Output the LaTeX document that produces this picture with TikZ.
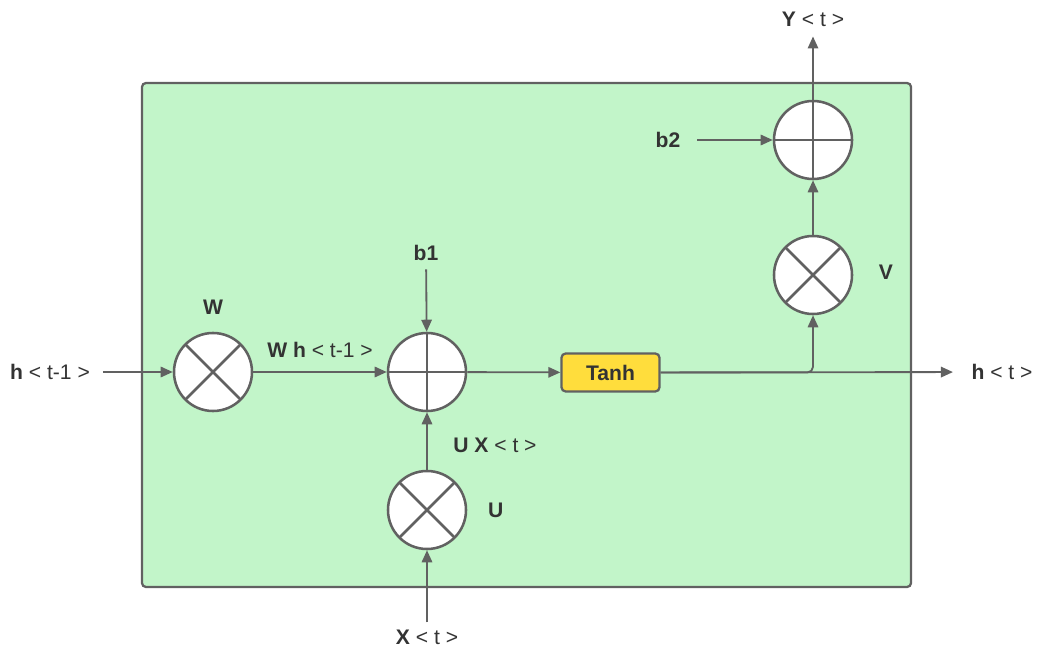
\documentclass[tikz,border=0pt]{standalone}
\usepackage{fontspec}
\setmainfont{Liberation Sans}
\usepackage{tikz}
\usetikzlibrary{arrows.meta, positioning}
\definecolor{cellgreen}{HTML}{C2F5C9}
\definecolor{tanhyellow}{HTML}{FFDD3C}
\definecolor{linegray}{HTML}{616161}
\definecolor{textgray}{HTML}{333333}

\begin{document}
\begin{tikzpicture}[
      x=0.025cm, y=-0.025cm,
      font=\fontsize{15}{17}\selectfont, text=textgray,
      % Styles
      cell/.style={
        rectangle, draw=linegray, line width=1.6pt, rounded corners=3pt,
        fill=cellgreen, minimum width=19.225cm, minimum height=12.6cm
      },
      opnode/.style={
        circle, draw=linegray, line width=1.8pt, fill=white,
        minimum size=1.95cm, inner sep=0pt
      },
      mulop/.style={
        opnode, path picture={
          \draw[linegray, line width=1.8pt]
            (path picture bounding box.north west) -- (path picture bounding box.south east)
            (path picture bounding box.north east) -- (path picture bounding box.south west);
        }
      },
      addop/.style={
        opnode, path picture={
          \draw[linegray, line width=1.8pt]
            (path picture bounding box.north) -- (path picture bounding box.south)
            (path picture bounding box.east) -- (path picture bounding box.west);
        }
      },
      act/.style={
        rectangle, draw=linegray, line width=1.6pt, rounded corners=3pt,
        fill=tanhyellow, minimum width=2.45cm, minimum height=0.95cm,
        font=\fontsize{15}{17}\selectfont\bfseries
      },
      flow/.style={
        -{Triangle[length=0.3cm, width=0.26cm]}, draw=linegray, line width=1.3pt
      },
      io/.style={inner sep=0pt},
      wlabel/.style={inner sep=1pt, font=\fontsize{15}{17}\selectfont\bfseries}
    ]

    \useasboundingbox (0,0) rectangle (1037,649);

    % --- 1. NODES ---

    % RNN cell
    \node[cell] (cell) at (526.5,335) {};

    % Operations
    \node[mulop] (mulW) at (213,372) {};
    \node[addop] (add1) at (427,372) {};
    \node[mulop] (mulU) at (427,510) {};
    \node[act] (tanh) at (610.5,372.5) {Tanh};
    \node[mulop] (mulV) at (813,275) {};
    \node[addop] (add2) at (813,140) {};

    % Weights
    \node[wlabel, above=0.4cm of mulW] (wname) {W};
    \node[wlabel, right=0.48cm of mulU] (uname) {U};
    \node[wlabel, right=0.6cm of mulV, yshift=0.07cm] (vname) {V};

    % Inputs and outputs
    \node[io, inner xsep=9pt] (hin) at (50,372) {\textbf{h} < t-1 >};
    \node[io, inner xsep=13pt] (hout) at (1002,372) {\textbf{h} < t >};
    \node[io, inner ysep=5pt] (xin) at (427,637) {\textbf{X} < t >};
    \node[io, inner ysep=7pt] (yout) at (813,19) {\textbf{Y} < t >};
    \node[io, inner ysep=6pt, font=\fontsize{15}{17}\selectfont\bfseries] (bias1) at (426,253) {b1};
    \node[io, inner xsep=12pt, font=\fontsize{15}{17}\selectfont\bfseries] (bias2) at (668,140) {b2};

    % --- 2. EDGES ---

    % Hidden state path
    \draw[flow] (hin) -- (mulW);
    \draw[flow] (mulW) -- node[above, inner sep=1pt, yshift=0.3cm] {\textbf{W h} < t-1 >} (add1);
    \draw[flow] (bias1) -- (add1);

    % Input path
    \draw[flow] (xin) -- (mulU);
    \draw[flow] (mulU) -- node[right, inner sep=1pt, xshift=0.6cm, yshift=-0.12cm] {\textbf{U X} < t >} (add1);

    % Activation
    \draw[flow] (add1) -- (tanh);
    \draw[flow] (tanh) -- (hout);
    \draw[flow, rounded corners=4pt] (tanh.east) -| (mulV);

    % Output path
    \draw[flow] (mulV) -- (add2);
    \draw[flow] (bias2) -- (add2);
    \draw[flow] (add2) -- (yout);

    \end{tikzpicture}
\end{document}
